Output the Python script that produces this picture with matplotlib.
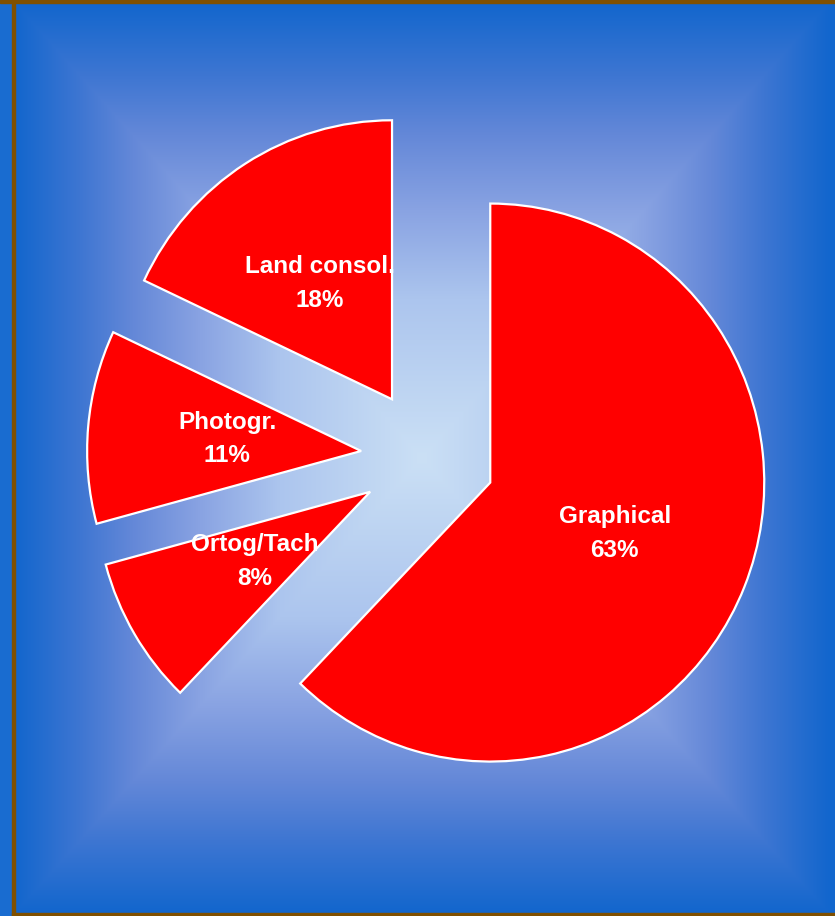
import numpy as np
import matplotlib
matplotlib.use("Agg")
import matplotlib.pyplot as plt
from matplotlib.patches import Rectangle

# ---- data ----
categories = ["Graphical", "Ortog/Tach", "Photogr.", "Land consol."]
shares = [62.2, 8.6, 11.2, 18.0]          # wedge sizes
pct_labels = [63, 8, 11, 18]              # percentages printed on the chart

W, H = 835, 916
fig = plt.figure(figsize=(W / 100, H / 100), dpi=100)

# ---- background (rectangular gradient) ----
bg = fig.add_axes([0, 0, 1, 1])
bg.set_xlim(0, W)
bg.set_ylim(H, 0)
bg.axis("off")
bg.add_patch(Rectangle((0, 0), W, H, color=(25/255, 108/255, 208/255), zorder=0))
x0, x1, y0, y1 = 15, 835, 3, 913
cx, cy = 422, 458
xs = np.arange(x0, x1) + 0.5
ys = np.arange(y0, y1) + 0.5
X, Y = np.meshgrid(xs, ys)
t = np.maximum(np.abs(X - cx) / (cx - x0), np.abs(Y - cy) / (cy - y0))
t = np.clip(t, 0, 1)
stops_t = [0.0, 0.35, 0.55, 0.71, 0.84, 1.0]
stops_c = np.array([[203, 224, 245], [172, 197, 238], [136, 162, 226],
                    [100, 136, 216], [62, 118, 210], [18, 102, 205]]) / 255
img = np.stack([np.interp(t, stops_t, stops_c[:, k]) for k in range(3)], axis=-1)
bg.imshow(img, extent=(x0, x1, y1, y0), interpolation="bilinear", zorder=1, aspect="auto")
brown = (128/255, 80/255, 0)
bg.add_patch(Rectangle((12, 0), 3, H, color=brown, zorder=2))
bg.add_patch(Rectangle((0, 0), W, 2.5, color=brown, zorder=2))
bg.add_patch(Rectangle((12, 913), W - 12, 3, color=brown, zorder=2))

# ---- pie ----
ax = fig.add_axes([0, 0, 1, 1])
ax.patch.set_alpha(0)
labels = [f"{c}\n{v}%" for c, v in zip(categories, pct_labels)]
wedges, texts = ax.pie(
    shares,
    explode=[0.245] * len(shares),
    startangle=90,
    counterclock=False,
    colors=["#ff0000"] * len(shares),
    labels=labels,
    labeldistance=0.49,
    wedgeprops=dict(edgecolor="white", linewidth=1.6),
    textprops=dict(color="white", fontsize=17.5, fontweight="bold",
                   family=["Liberation Sans", "DejaVu Sans"], linespacing=1.6),
)
for tx in texts:
    tx.set_horizontalalignment("center")
    tx.set_verticalalignment("center")
    tx.set_multialignment("center")

# pixel mapping: centre at (428, 457), rx=274 px, ry=279 px
pcx, pcy, rx, ry = 428, 457, 274, 279
ax.set_aspect("auto")
ax.set_xlim((0 - pcx) / rx, (W - pcx) / rx)
ax.set_ylim((pcy - H) / ry, pcy / ry)
ax.axis("off")

fig.savefig("out.png", dpi=100)
